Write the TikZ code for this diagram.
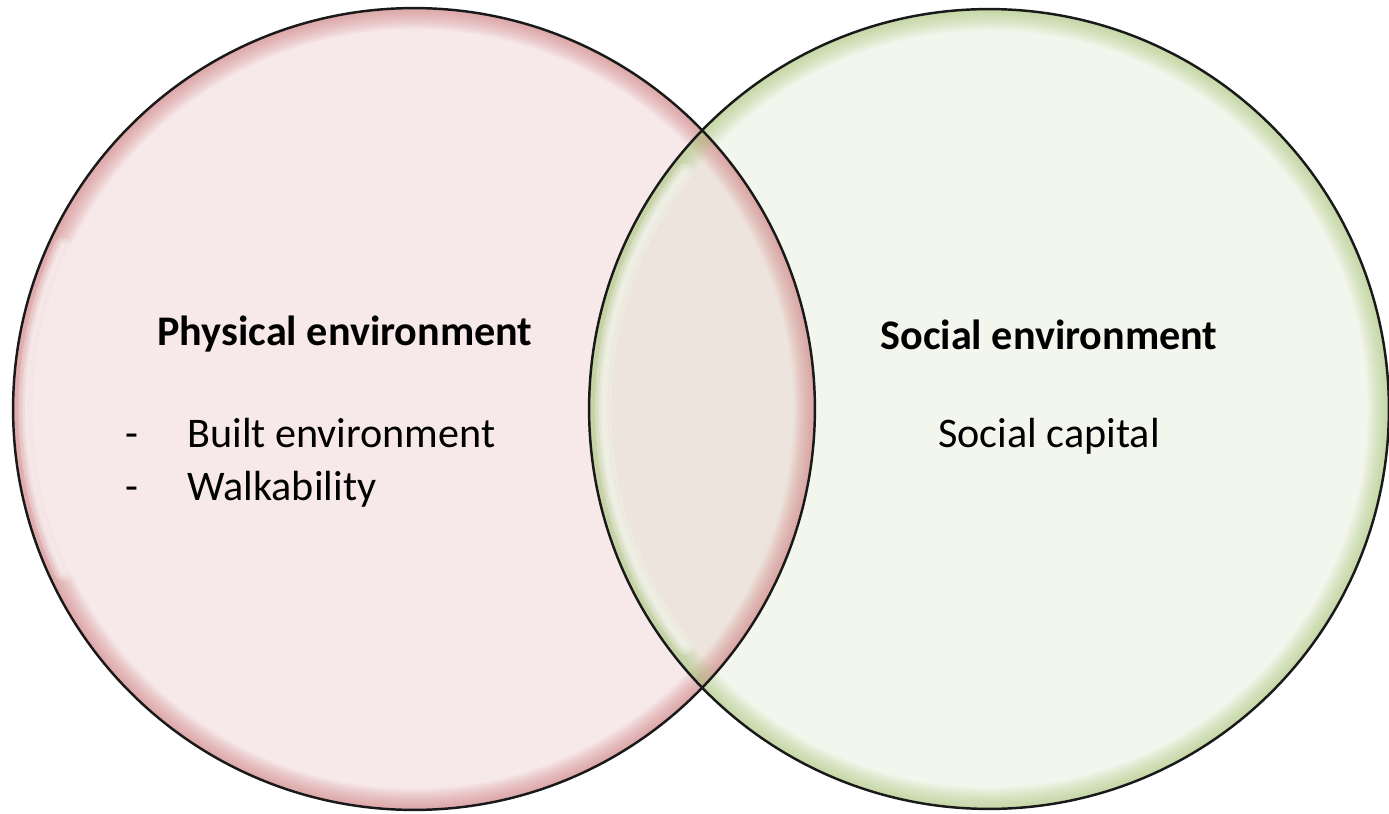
\documentclass[tikz,border=0pt]{standalone}
\usepackage{fontspec}
\setmainfont{Carlito}
\usetikzlibrary{positioning}
\definecolor{physFill}{HTML}{F7E9EA}
\definecolor{physRim}{HTML}{D07C7E}
\definecolor{socFill}{HTML}{F3F6EC}
\definecolor{socRim}{HTML}{A9C77A}
\definecolor{bothFill}{HTML}{EDE5DD}
\tikzstyle{set border}=[draw=black!90, line width=1.4pt]
\tikzstyle{setText}=[inner sep=0pt, font=\fontsize{24}{28}\selectfont]
\tikzstyle{heading}=[setText, font=\fontsize{24}{28}\selectfont\bfseries]
\tikzstyle{shine}=[white, opacity=0.25, line cap=round]

\begin{document}
\begin{tikzpicture}[x=0.02cm, y=-0.02cm]
      \useasboundingbox (0,0) rectangle (1389,814);

      \coordinate (physC) at (414,409);
      \coordinate (socC) at (989,409);

      \fill[physFill] (physC) circle (8.02cm);
      \fill[socFill] (socC) circle (8cm);
      \begin{scope}
        \clip (physC) circle (8.02cm);
        \fill[bothFill] (socC) circle (8cm);
      \end{scope}

      % soft rims inside the two sets
      \begin{scope}
        \clip (physC) circle (8.02cm);
        \foreach \i in {1,...,12}{
          \draw[physRim, opacity=0.065, line width=\i*2pt] (physC) circle (8.02cm);
        }
        \foreach \w in {2pt,5pt,9pt}{
          \draw[shine, line width=\w] (physC) ++(155:7.75cm) arc (155:205:7.75cm);
        }
      \end{scope}
      \begin{scope}
        \clip (socC) circle (8cm);
        \foreach \i in {1,...,12}{
          \draw[socRim, opacity=0.065, line width=\i*2pt] (socC) circle (8cm);
        }
        \foreach \w in {2pt,5pt,9pt}{
          \draw[shine, line width=\w] (socC) ++(142:7.72cm) arc (142:218:7.72cm);
        }
      \end{scope}

      \draw[set border] (physC) circle (8.02cm);
      \draw[set border] (socC) circle (8cm);

      \node[heading, anchor=base] (physTitle) at (345,345) {Physical environment};
      \node[setText, anchor=base west] (built) at (187,447) {Built environment};
      \node[setText, anchor=base west] (walk) at (187,500) {Walkability};
      \node[setText, anchor=base] (dash1) at (132,447) {-};
      \node[setText, anchor=base] (dash2) at (132,500) {-};

      \node[heading, anchor=base] (socTitle) at (1049,349) {Social environment};
      \node[setText, anchor=base] (capital) at (1049,447) {Social capital};

    \end{tikzpicture}
\end{document}
